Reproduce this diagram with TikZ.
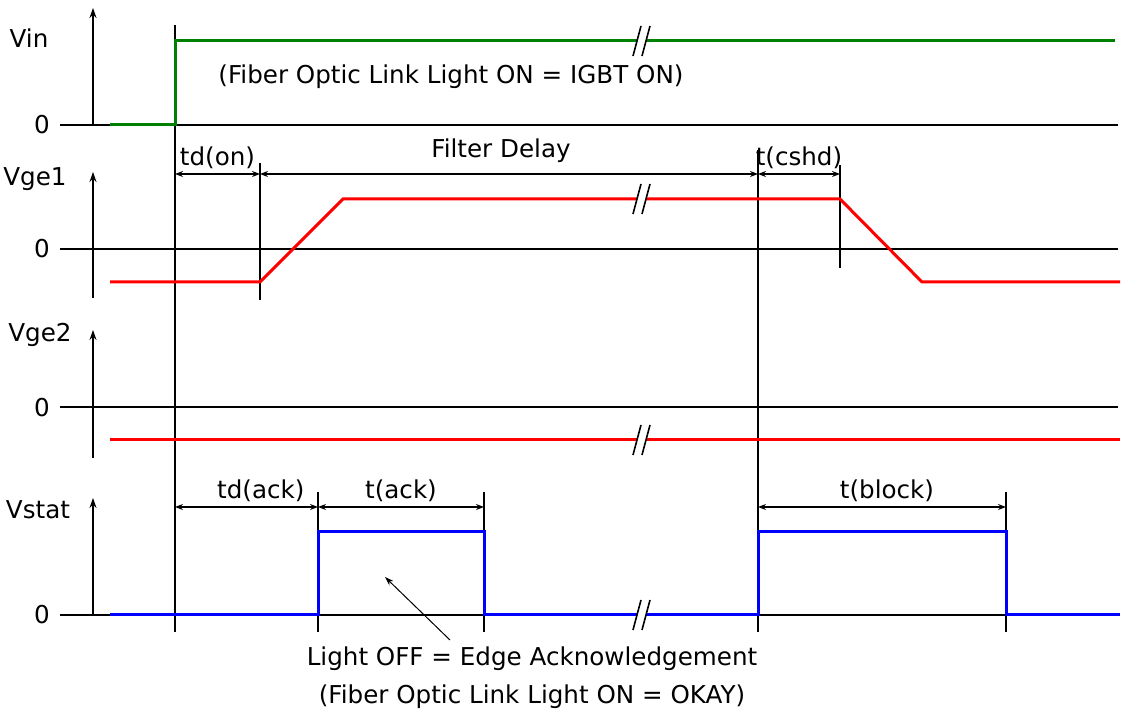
\documentclass[tikz,border=0pt]{standalone}
\usepackage{fontspec}
\setmainfont{DejaVu Sans}
\usepackage{tikz}
\usetikzlibrary{arrows.meta}

\definecolor{vinGreen}{RGB}{0,128,0}

\begin{document}
\begin{tikzpicture}[
    x=0.5pt, y=-0.5pt,
    font=\fontsize{12.3}{14}\selectfont,
    guide/.style={line width=0.6pt},
    signal/.style={line width=1.5pt, #1},
    signal/.default=black,
    axis/.style={line width=0.6pt, -{Stealth[length=5pt, width=3.5pt]}},
    dim/.style={line width=0.6pt, {Stealth[length=4pt, width=3pt]}-{Stealth[length=4pt, width=3pt]}},
    dimlabel/.style={above, inner sep=2.5pt},
    pointer/.style={line width=0.5pt, -{Stealth[length=4.5pt, width=3pt]}}
]
    \useasboundingbox (0,0) rectangle (1121,715);

    % Signal names and zero levels
    \node (lblVin)   at (29,38)   {Vin};
    \node (lblVge1)  at (35,179)  {Vge1};
    \node (lblVge2)  at (40,335)  {Vge2};
    \node (lblVstat) at (38,510)  {Vstat};
    \node (zeroVin)  at (42,125)  {0};
    \node (zeroVge1) at (42,249)  {0};
    \node (zeroVge2) at (42,408)  {0};
    \node (zeroVst)  at (42,615)  {0};

    % Axes
    \draw[axis] (93,125) -- (93,8);
    \draw[axis] (93,298) -- (93,172);
    \draw[axis] (93,458) -- (93,330);
    \draw[axis] (93,615) -- (93,498);
    \foreach \yz in {125,249,407,615}
        \draw[guide] (60,\yz) -- (1118,\yz);

    % Time markers
    \draw[guide] (175,25)   -- (175,632);
    \draw[guide] (260,163)  -- (260,300);
    \draw[guide] (758,150)  -- (758,632);
    \draw[guide] (840,165)  -- (840,268);
    \draw[guide] (318,492)  -- (318,632);
    \draw[guide] (484,492)  -- (484,632);
    \draw[guide] (1006,492) -- (1006,632);

    % Waveforms
    \draw[signal=vinGreen] (110,125) -- (175,125) -- (175,41) -- (1115,41);
    \draw[signal=red] (110,282) -- (260,282) -- (343,199) -- (840,199) -- (922,282) -- (1120,282);
    \draw[signal=red] (110,440) -- (1120,440);
    \draw[signal=blue] (110,615) -- (318,615) -- (318,532) -- (484,532) -- (484,615)
        -- (758,615) -- (758,532) -- (1006,532) -- (1006,615) -- (1120,615);

    % Break marks
    \foreach \yb in {41,199,440,615} {
        \fill[white] (633,\yb+15) -- (641,\yb-15) -- (650,\yb-15) -- (642,\yb+15) -- cycle;
        \draw[guide, line width=0.8pt] (633,\yb+15) -- (641,\yb-15);
        \draw[guide, line width=0.8pt] (642,\yb+15) -- (650,\yb-15);
    }

    % Delays
    \draw[dim] (175,174) -- node[dimlabel] (tdon) {td(on)} (260,174);
    \draw[dim] (260,174) -- node[dimlabel, pos=0.484, inner sep=5.5pt] (filter) {Filter Delay} (758,174);
    \draw[dim] (758,174) -- node[dimlabel] (tcshd) {t(cshd)} (840,174);
    \draw[dim] (175,507) -- node[dimlabel, pos=0.6] (tdack) {td(ack)} (318,507);
    \draw[dim] (318,507) -- node[dimlabel] (tack) {t(ack)} (484,507);
    \draw[dim] (758,507) -- node[dimlabel, pos=0.52] (tblock) {t(block)} (1006,507);

    % Notes
    \node (vinNote) at (451,77) {(Fiber Optic Link Light ON = IGBT ON)};
    \node (ackNote) at (532,659) {Light OFF = Edge Acknowledgement};
    \node (okNote)  at (532,697) {(Fiber Optic Link Light ON = OKAY)};
    \coordinate (ackTip) at (385,577);
    \draw[pointer] (ackNote.north) ++(-82,0) -- (ackTip);

\end{tikzpicture}
\end{document}
